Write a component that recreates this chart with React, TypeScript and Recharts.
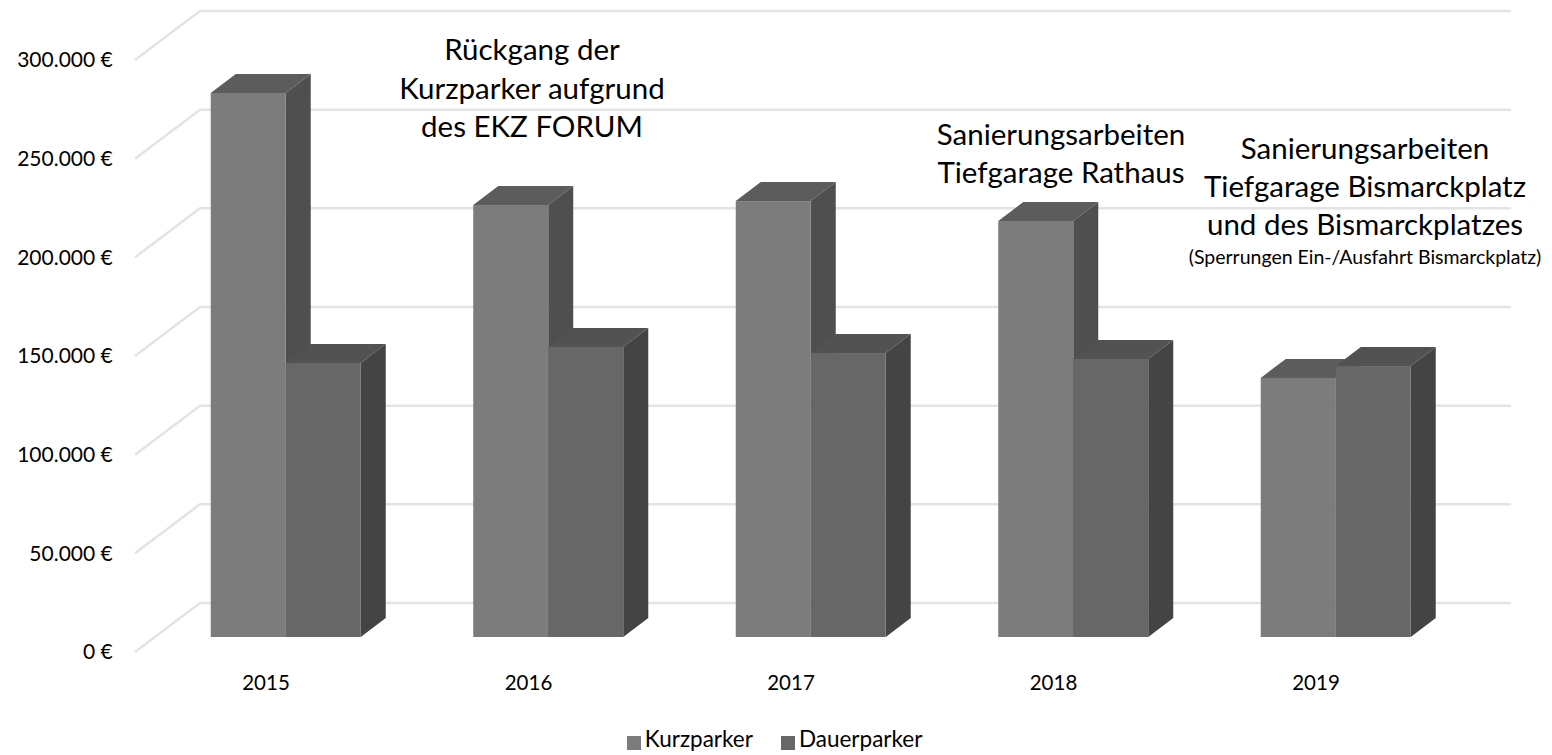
import { Bar, BarChart, CartesianGrid, Legend, XAxis, YAxis } from "recharts";

const YEARS = ["2015", "2016", "2017", "2018", "2019"];
const KURZPARKER = [275700, 218900, 220900, 210800, 131300];
const DAUERPARKER = [138900, 147000, 143900, 140900, 137300];
const Y_TICKS = [0, 50000, 100000, 150000, 200000, 250000, 300000];

const NOTE_FORUM = ["Rückgang der", "Kurzparker aufgrund", "des EKZ FORUM"];
const NOTE_RATHAUS = ["Sanierungsarbeiten", "Tiefgarage Rathaus"];
const NOTE_BISMARCK = ["Sanierungsarbeiten", "Tiefgarage Bismarckplatz", "und des Bismarckplatzes"];
const NOTE_BISMARCK_SMALL = "(Sperrungen Ein-/Ausfahrt Bismarckplatz)";

const data = YEARS.map((year, i) => ({
  year,
  kurz: KURZPARKER[i],
  dauer: DAUERPARKER[i],
}));

const FONT = "Lato, sans-serif";

// Depth of the fake 3D: bars are shallower than the floor/wall of the plot.
const BAR_DEPTH = { dx: 25, dy: -19 };
const GRID_COLOR = "#e3e3e3";

function euroTick(value: number) {
  return `${String(value).replace(/\B(?=(\d{3})+$)/g, ".")} €`;
}

function makeBox(top: string, side: string, front: string) {
  return function Box3D(props: any) {
    const { x, y, width, height } = props;
    const { dx, dy } = BAR_DEPTH;
    const r = x + width;
    const b = y + height;
    return (
      <g>
        <polygon points={`${x},${y} ${x + dx},${y + dy} ${r + dx},${y + dy} ${r},${y}`} fill={top} />
        <polygon points={`${r},${y} ${r + dx},${y + dy} ${r + dx},${b + dy} ${r},${b}`} fill={side} />
        <rect x={x} y={y} width={width} height={height} fill={front} />
      </g>
    );
  };
}

// Grid runs along the left wall first, then across the back.
function WallLine(props: any) {
  const { y1, x2 } = props;
  const x0 = 135;
  const xBack = 200;
  return (
    <polyline
      points={`${x0},${y1 + 15} ${xBack},${y1 - 34} ${x2 + 43.75},${y1 - 34}`}
      fill="none"
      stroke={GRID_COLOR}
      strokeWidth={2.5}
    />
  );
}

function Note({ lines, cx, top, size, lineHeight }: { lines: string[]; cx: number; top: number; size: number; lineHeight: number }) {
  return (
    <div
      style={{
        position: "absolute",
        left: cx - 250,
        top,
        width: 500,
        textAlign: "center",
        fontFamily: FONT,
        fontSize: size,
        lineHeight: `${lineHeight}px`,
        color: "#000",
      }}
    >
      {lines.map((l) => (
        <div key={l}>{l}</div>
      ))}
    </div>
  );
}

export default function App() {
  return (
    <div style={{ position: "absolute", left: 0, top: 0, width: 1552, height: 755, background: "#fff" }}>
      <BarChart
        width={1552}
        height={755}
        data={data}
        barSize={75}
        barGap={0}
        margin={{ left: 0, right: 84.75, top: 45, bottom: 0 }}
        style={{ fontFamily: FONT }}
      >
        <CartesianGrid vertical={false} horizontal={(p: any) => <WallLine key={p.key} {...p} />} />
        <XAxis
          dataKey="year"
          height={78}
          axisLine={false}
          tickLine={false}
          tickSize={0}
          tickMargin={38}
          tick={{ fontSize: 20.5, fill: "#000", dx: -20 }}
        />
        <YAxis
          width={154.75}
          domain={[0, 300000]}
          ticks={Y_TICKS}
          axisLine={false}
          tickLine={false}
          tickSize={0}
          tickMargin={42}
          tickFormatter={euroTick}
          tick={{ fontSize: 21, fill: "#000", dy: 15 }}
        />
        <Legend
          height={40}
          iconType="square"
          iconSize={14}
          itemSorter={null}
          wrapperStyle={{ left: 55, top: 725 }}
          formatter={(value: string) => (
            <span style={{ color: "#000", fontSize: 22.5, marginRight: 18 }}>{value}</span>
          )}
        />
        <Bar
          dataKey="kurz"
          name="Kurzparker"
          fill="#7c7c7c"
          isAnimationActive={false}
          shape={makeBox("#5c5c5c", "#4f4f4f", "#7c7c7c")}
        />
        <Bar
          dataKey="dauer"
          name="Dauerparker"
          fill="#676767"
          isAnimationActive={false}
          shape={makeBox("#525252", "#444444", "#676767")}
        />
      </BarChart>
      <Note lines={NOTE_FORUM} cx={532} top={30} size={29.5} lineHeight={38.5} />
      <Note lines={NOTE_RATHAUS} cx={1061} top={115} size={29.5} lineHeight={37.5} />
      <Note lines={NOTE_BISMARCK} cx={1365} top={129} size={29.5} lineHeight={38} />
      <Note lines={[NOTE_BISMARCK_SMALL]} cx={1365} top={245} size={19.5} lineHeight={24} />
    </div>
  );
}
